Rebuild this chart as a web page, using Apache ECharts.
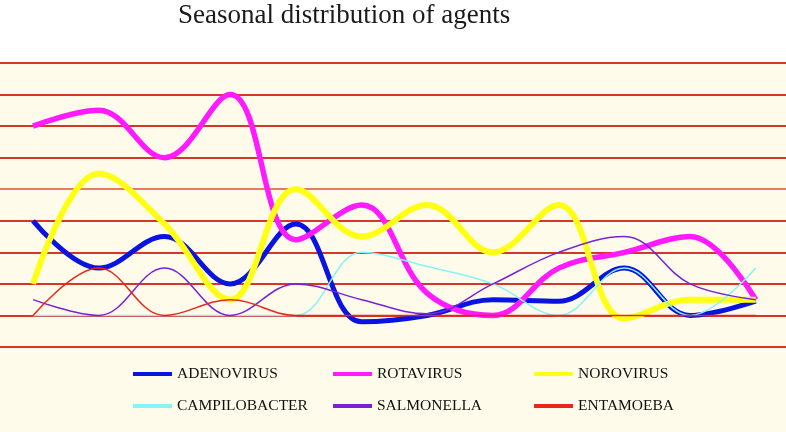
<!DOCTYPE html>
<html>
<head>
<meta charset="utf-8">
<script src="https://cdn.jsdelivr.net/npm/echarts@6/dist/echarts.min.js"></script>
<style>
html,body{margin:0;padding:0;background:#ffffff;}
#chart{width:786px;height:432px;}
</style>
</head>
<body>
<div id="chart"></div>
<script>
// Months (x positions)
const months = [1,2,3,4,5,6,7,8,9,10,11,12];
// Series values
const adenovirus    = [4, 2.5, 3.5, 2, 3.9, 0.8, 1, 1.5, 1.45, 2.5, 1, 1.45];
const rotavirus     = [7, 7.5, 6, 8, 3.4, 4.5, 1.7, 1, 2.5, 3, 3.5, 1.5];
const norovirus     = [2, 5.5, 3.9, 1.5, 5, 3.5, 4.5, 3, 4.5, 0.9, 1.5, 1.5];
const campilobacter = [1, 1, 1, 1, 1, 3, 2.55, 2, 1, 2.5, 1, 2.5];
const salmonella    = [1.5, 1, 2.5, 1, 2, 1.5, 1.05, 2, 3, 3.5, 2, 1.5];
const entamoeba     = [1, 2.5, 1, 1.5, 1, 1, 1, 1, 1, 1, 1, 1];
const seriesNames = ['ADENOVIRUS','ROTAVIRUS','NOROVIRUS','CAMPILOBACTER','SALMONELLA','ENTAMOEBA'];

function pairs(vals){ return months.map((m,i)=>[m, vals[i]]); }

const chart = echarts.init(document.getElementById('chart'), null, {renderer:'canvas'});
const serif = "'Liberation Serif', 'DejaVu Serif', serif";
const legendText = {fontFamily: serif, fontSize: 15.5, color: '#111111', lineHeight: 16};
function legendCol(left, names){
  return {
    orient:'vertical', left:left, top:366, padding:0, itemWidth:39, itemHeight:4, itemGap:16,
    icon:'rect', data:names, textStyle:legendText, selectedMode:false
  };
}
function mk(name, vals, color, width){
  return {
    name:name, type:'line', data:pairs(vals), smooth:0.38, symbol:'none',
    lineStyle:{color:color, width:width}, itemStyle:{color:color},
    emphasis:{disabled:true}
  };
}
const option = {
  animation:false,
  backgroundColor:'#ffffff',
  title:{
    text:'Seasonal distribution of agents', left:178, top:-3, padding:[5,0,5,0],
    textStyle:{fontFamily:serif, fontSize:27, fontWeight:'normal', color:'#1a1a1a'}
  },
  graphic:[{type:'rect', z:-10, silent:true, shape:{x:0, y:62, width:786, height:370}, style:{fill:'#fefbea'}}],
  legend:[
    legendCol(133, ['ADENOVIRUS','CAMPILOBACTER']),
    legendCol(333, ['ROTAVIRUS','SALMONELLA']),
    legendCol(534, ['NOROVIRUS','ENTAMOEBA'])
  ],
  grid:{left:0, right:0, top:63, bottom:85},
  xAxis:{type:'value', min:0.497, max:12.46, show:false, splitLine:{show:false}},
  yAxis:{type:'value', min:0, max:9, interval:1,
    axisLine:{show:false}, axisTick:{show:false}, axisLabel:{show:false},
    splitLine:{show:true, lineStyle:{color:['#d8352a','#d8352a','#d8352a','#d8352a','#d8352a','#ec7a5e','#d8352a','#d8352a','#d8352a','#d8352a'], width:2}}
  },
  series:[
    mk(seriesNames[0], adenovirus, '#0a14e0', 5),
    mk(seriesNames[1], rotavirus, '#ff1aff', 5.5),
    mk(seriesNames[2], norovirus, '#ffff14', 6),
    mk(seriesNames[3], campilobacter, '#86f4f4', 1.5),
    mk(seriesNames[4], salmonella, '#7a22d6', 1.5),
    mk(seriesNames[5], entamoeba, '#e8261a', 1.5)
  ]
};
chart.setOption(option);
</script>
</body>
</html>
